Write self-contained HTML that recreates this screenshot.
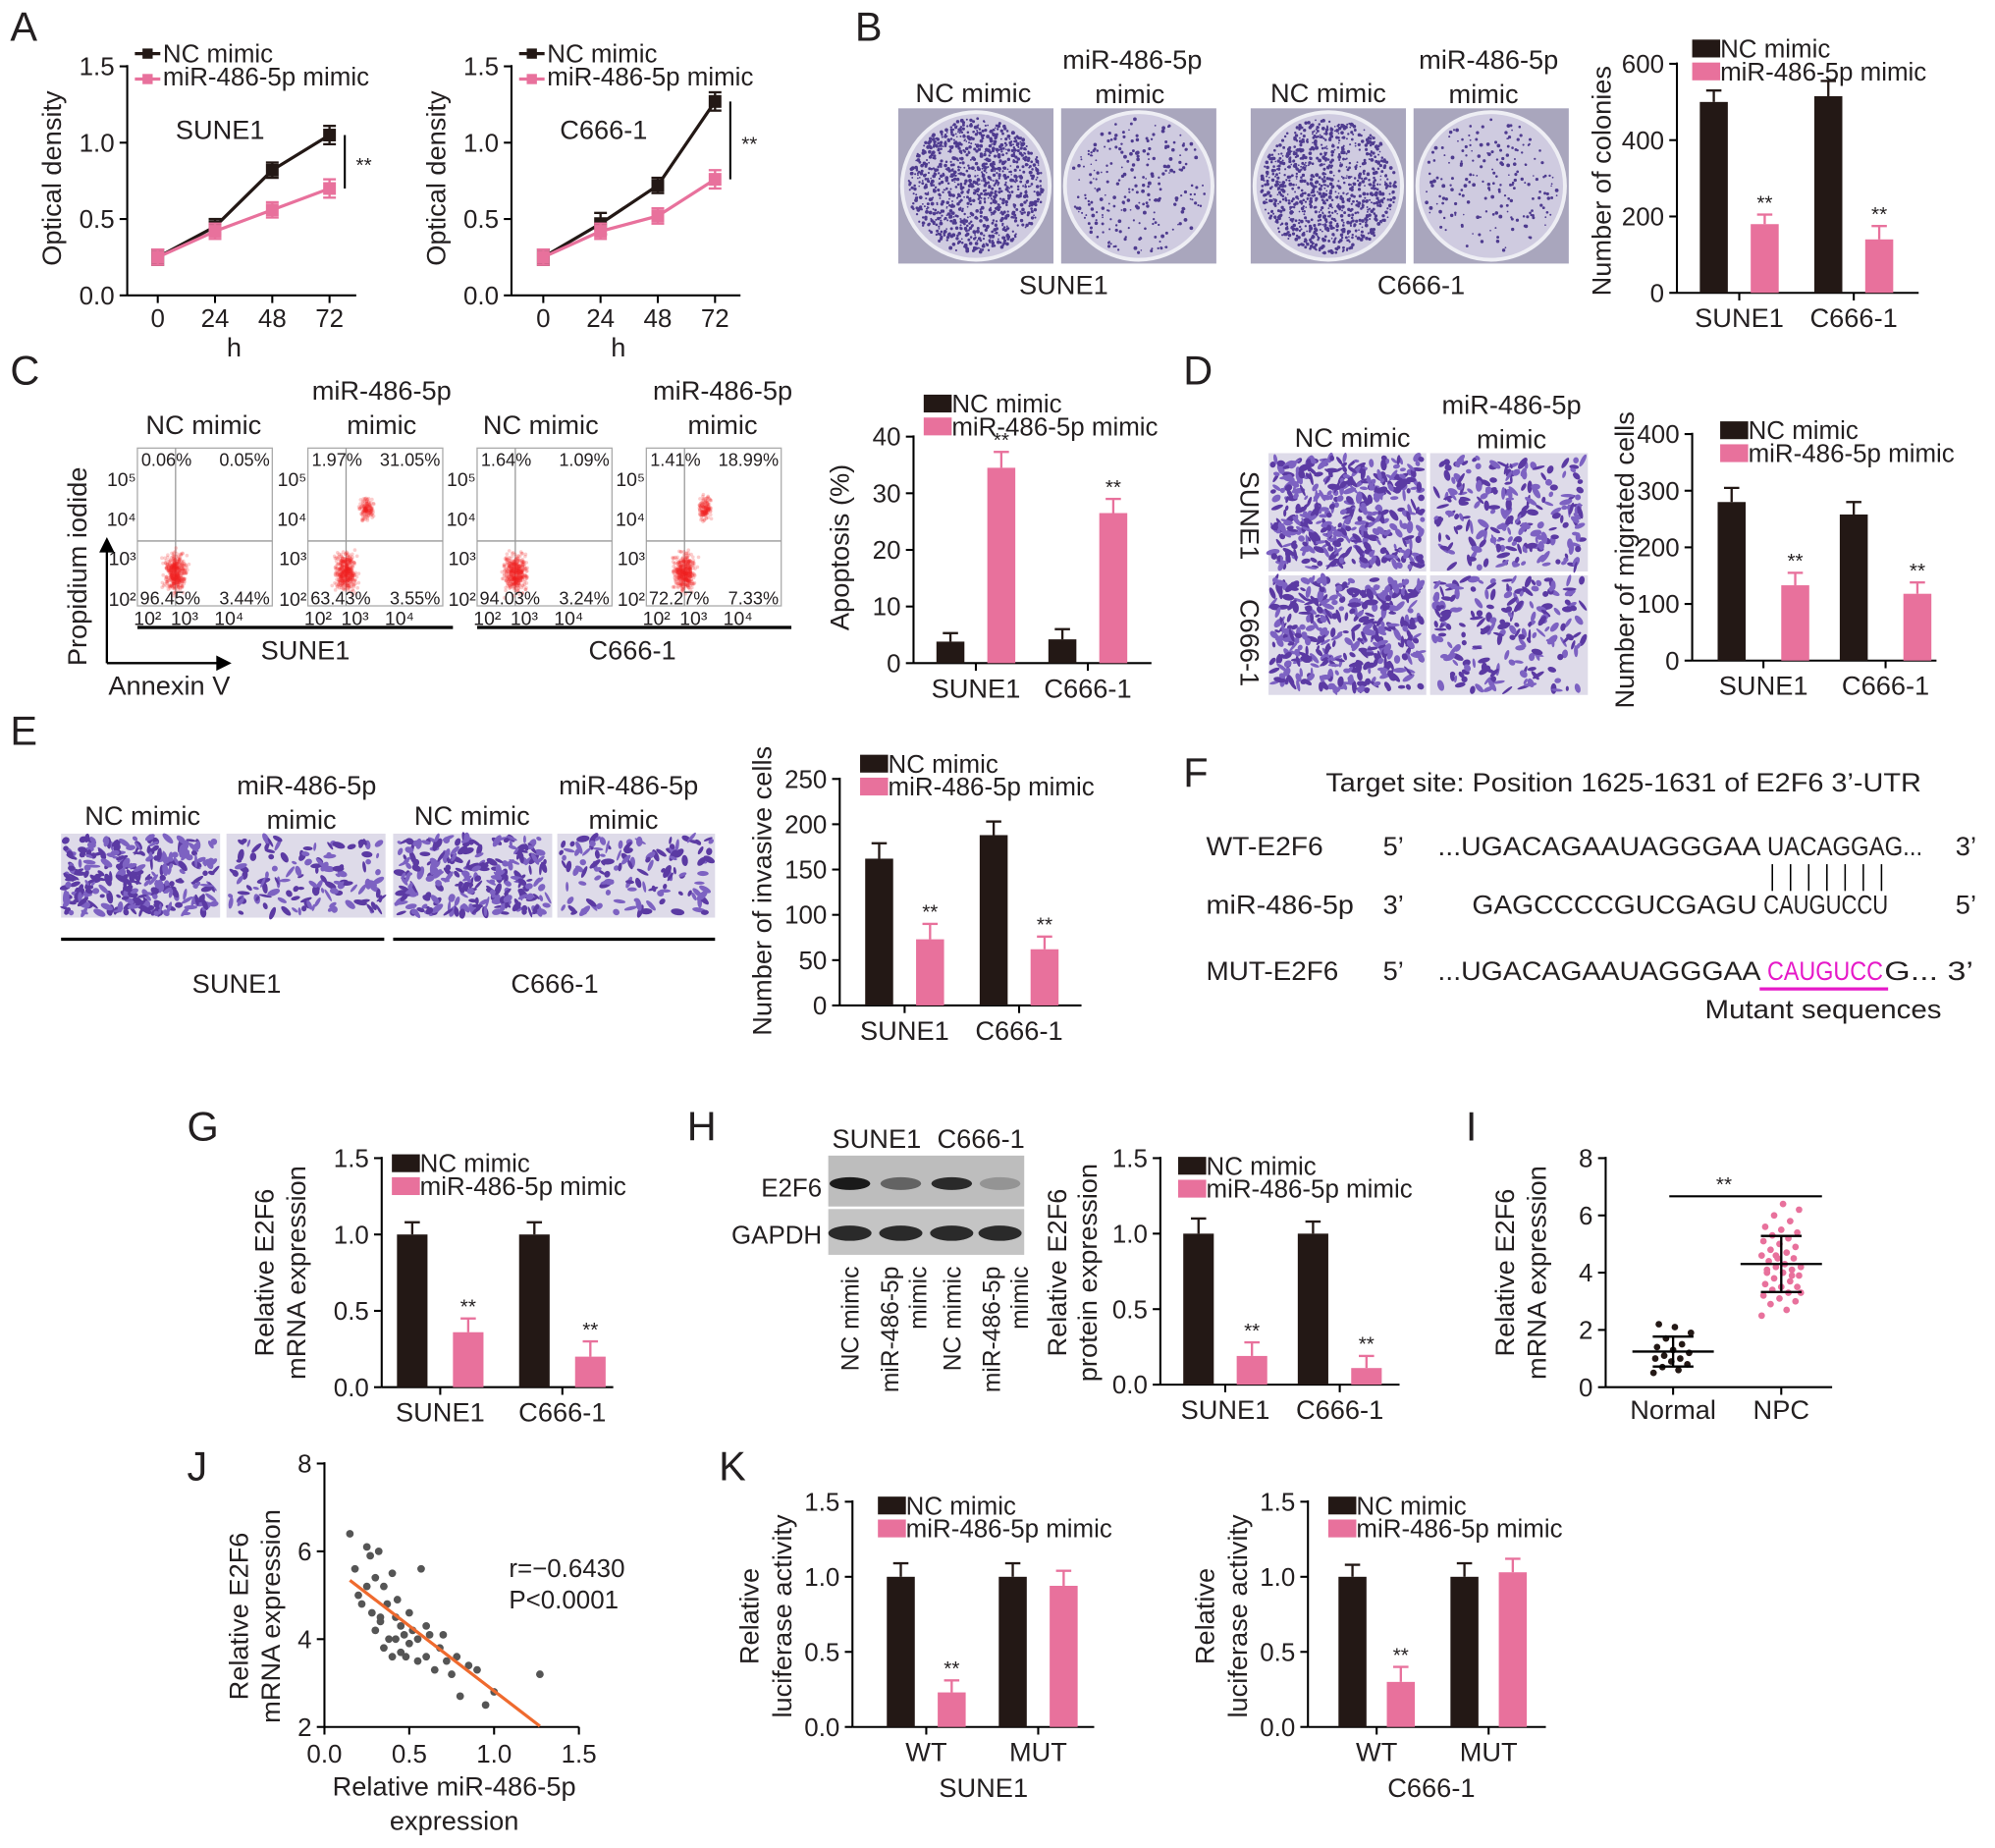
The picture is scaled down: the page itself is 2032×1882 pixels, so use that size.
<!DOCTYPE html>
<html><head><meta charset="utf-8">
<style>
html,body{margin:0;padding:0;background:#fff;}
svg{display:block;}
text{font-family:"Liberation Sans",Arial,sans-serif;fill:#231f20;}
</style></head>
<body>
<svg id="fig" xmlns="http://www.w3.org/2000/svg" width="2032" height="1882" viewBox="0 0 1568 1452"></svg>
<script>
// ---------------- DATA ----------------
const hours = [0, 24, 48, 72];
const aSuneNC = [0.25, 0.45, 0.82, 1.05];
const aSuneMi = [0.25, 0.42, 0.56, 0.70];
const aSuneNCErr = [0.05, 0.05, 0.05, 0.06];
const aSuneMiErr = [0.05, 0.05, 0.05, 0.06];
const aC666NC = [0.25, 0.47, 0.72, 1.27];
const aC666Mi = [0.25, 0.42, 0.52, 0.76];
const aC666NCErr = [0.05, 0.07, 0.05, 0.06];
const aC666MiErr = [0.05, 0.05, 0.05, 0.06];
const cellLines = ["SUNE1", "C666-1"];
const bNC = [500, 515]; const bNCErr = [30, 40];
const bMi = [180, 140]; const bMiErr = [25, 35];
const cNC = [3.8, 4.2]; const cNCErr = [1.5, 1.8];
const cMi = [34.5, 26.5]; const cMiErr = [2.8, 2.5];
const dNC = [280, 258]; const dNCErr = [25, 22];
const dMi = [133, 118]; const dMiErr = [22, 20];
const eNC = [162, 188]; const eNCErr = [17, 15];
const eMi = [73, 62]; const eMiErr = [17, 14];
const gNC = [1.0, 1.0]; const gNCErr = [0.08, 0.08];
const gMi = [0.36, 0.20]; const gMiErr = [0.09, 0.1];
const hNC = [1.0, 1.0]; const hNCErr = [0.1, 0.08];
const hMi = [0.19, 0.11]; const hMiErr = [0.09, 0.08];
const kCats = ["WT", "MUT"];
const kSuneNC = [1.0, 1.0]; const kSuneNCErr = [0.09, 0.09];
const kSuneMi = [0.23, 0.94]; const kSuneMiErr = [0.08, 0.1];
const kC666NC = [1.0, 1.0]; const kC666NCErr = [0.08, 0.09];
const kC666Mi = [0.30, 1.03]; const kC666MiErr = [0.1, 0.09];
const iNormal = [0.5, 0.6, 0.7, 0.8, 0.9, 1.0, 1.0, 1.1, 1.2, 1.3, 1.4, 1.5, 1.7, 1.9, 2.1, 2.2];
const iNPC = [2.5, 2.7, 2.9, 3.0, 3.1, 3.2, 3.3, 3.4, 3.5, 3.5, 3.6, 3.7, 3.8, 3.9, 4.0, 4.0, 4.1, 4.2, 4.2, 4.3, 4.4, 4.5, 4.5, 4.6, 4.7, 4.8, 4.9, 5.0, 5.1, 5.2, 5.3, 5.4, 5.5, 5.6, 5.8, 6.0, 6.2, 6.4, 4.1, 3.9, 4.6, 3.3];
const jX = [0.15,0.18,0.2,0.22,0.25,0.27,0.28,0.3,0.3,0.32,0.33,0.35,0.35,0.37,0.38,0.4,0.4,0.42,0.43,0.45,0.45,0.47,0.48,0.5,0.5,0.52,0.55,0.55,0.57,0.6,0.6,0.62,0.65,0.68,0.7,0.72,0.75,0.78,0.8,0.85,0.9,0.95,1.0,1.27,0.25,0.33,0.42];
const jY = [6.4,5.6,5.0,4.8,6.1,5.9,4.6,5.4,4.2,6.0,4.4,5.2,3.8,4.8,4.0,5.5,3.6,4.5,4.9,3.7,4.3,4.1,3.6,4.6,3.9,4.2,4.0,3.5,5.6,3.6,4.3,4.1,3.3,3.8,4.1,3.5,3.2,3.6,2.7,3.4,3.3,2.5,2.8,3.2,5.2,4.5,4.0];
const flowPct = [["0.06%","0.05%","96.45%","3.44%"],["1.97%","31.05%","63.43%","3.55%"],["1.64%","1.09%","94.03%","3.24%"],["1.41%","18.99%","72.27%","7.33%"]];

// ---------------- HELPERS ----------------
const NS = "http://www.w3.org/2000/svg";
const svg = document.getElementById("fig");
const PINK = "#e8719c", BLK = "#231815";
function mk(tag, attrs, parent) {
  const e = document.createElementNS(NS, tag);
  for (const k in attrs) e.setAttribute(k, attrs[k]);
  (parent || svg).appendChild(e);
  return e;
}
function txt(s, x, y, size, anchor, parent, name, extra) {
  const e = mk("text", Object.assign({x: x, y: y, "font-size": size, "text-anchor": anchor || "start"}, extra || {}), parent);
  e.textContent = s;
  
  
  return e;
}
function line(x1, y1, x2, y2, stroke, w, parent) {
  const e = mk("line", {x1: x1, y1: y1, x2: x2, y2: y2, stroke: stroke || "#000", "stroke-width": w || 1.6}, parent);
  
  
  return e;
}
function rotText(s, x, y, size, name) {
  return txt(s, x, y, size, "middle", svg, name, {transform: "rotate(-90 " + x + " " + y + ")"});
}
let seed = 7;
function rng() { seed = (seed * 16807) % 2147483647; return (seed - 1) / 2147483646; }

function yAxis(x0, yTop, yBot, max, step, fmt, size) {
  const g = mk("g", {});
  
  
  const sc = v => yBot - v / max * (yBot - yTop);
  line(x0, yTop - 1, x0, yBot, "#000", 1.6, g);
  for (let v = 0; v <= max + 1e-9; v += step) {
    line(x0 - 6, sc(v), x0, sc(v), "#000", 1.6, g);
    txt(fmt(v), x0 - 10, sc(v) + 7, size || 20, "end", g, 'y-tick-label');
  }
  return sc;
}
function legend(x, y, type) {
  const g = mk("g", {});
  
  
  if (type === "line") {
    line(x, y, x + 20, y, BLK, 2.5, g); mk("rect", {x: x + 6, y: y - 4, width: 8, height: 8, fill: BLK}, g);
    line(x, y + 20, x + 20, y + 20, PINK, 2.5, g); mk("rect", {x: x + 6, y: y + 16, width: 8, height: 8, fill: PINK}, g);
  } else {
    mk("rect", {x: x, y: y - 7, width: 22, height: 14, fill: BLK}, g);
    mk("rect", {x: x, y: y + 11, width: 22, height: 14, fill: PINK}, g);
  }
  txt("NC mimic", x + 22, y + 7, 20, "start", g, 'legend-nc');
  txt("miR-486-5p mimic", x + 22, y + 25, 20, "start", g, 'legend-mimic');
}
function barChart(o) {
  const sc = yAxis(o.x0, o.yTop, o.yBot, o.max, o.step, o.fmt, o.size);
  line(o.x0, o.yBot, o.xEnd, o.yBot, "#000", 1.6);
  const bw = o.bw || 22;
  for (let i = 0; i < o.nc.length; i++) {
    const gx = o.g0 + i * o.gs;
    const sets = [[o.nc, o.ncErr, BLK, gx], [o.mi, o.miErr, PINK, gx + o.pair]];
    sets.forEach((s, k) => {
      const v = s[0][i], err = s[1][i], bx = s[3];
      const r = mk("rect", {x: bx, y: sc(v), width: bw, height: o.yBot - sc(v), fill: s[2]});
      
      
      line(bx + bw / 2, sc(v), bx + bw / 2, sc(v + err), s[2], 1.8);
      line(bx + bw / 2 - 6, sc(v + err), bx + bw / 2 + 6, sc(v + err), s[2], 1.8);
      if (k === 1 && o.stars[i]) txt("**", bx + bw / 2, sc(v + err) - 4, 16, "middle", svg, 'significance');
    });
    line(gx + bw / 2 + o.pair / 2, o.yBot, gx + bw / 2 + o.pair / 2, o.yBot + 6, "#000", 1.6);
    txt(o.cats[i], gx + bw / 2 + o.pair / 2, o.yBot + 27, 21, "middle", svg, 'x-tick-label');
  }
  return sc;
}
function lineChart(o) {
  const sc = yAxis(o.x0, 52, 232, 1.5, 0.5, v => v.toFixed(1));
  const xs = h => o.xh0 + h / 72 * (o.xh72 - o.xh0);
  line(o.x0, 232, o.x0 + 180, 232, "#000", 1.6);
  hours.forEach(h => { line(xs(h), 232, xs(h), 238, "#000", 1.6); txt(String(h), xs(h), 257, 20, "middle", svg, 'x-tick-label'); });
  txt("h", o.x0 + 84, 280, 21, "middle", svg, 'x-axis-title');
  [[o.nc, o.ncErr, BLK], [o.mi, o.miErr, PINK]].forEach(s => {
    const pts = hours.map((h, i) => xs(h) + "," + sc(s[0][i])).join(" ");
    const pl = mk("polyline", {points: pts, fill: "none", stroke: s[2], "stroke-width": 2.5});
    
    
    hours.forEach((h, i) => {
      const x = xs(h), v = s[0][i], e = s[1][i];
      line(x, sc(v - e), x, sc(v + e), s[2], 1.8);
      line(x - 5, sc(v - e), x + 5, sc(v - e), s[2], 1.8);
      line(x - 5, sc(v + e), x + 5, sc(v + e), s[2], 1.8);
      const r = mk("rect", {x: x - 5, y: sc(v) - 5, width: 10, height: 10, fill: s[2]});
      
      
    });
  });
  const bx = xs(72) + 12;
  line(bx, sc(o.nc[3]), bx, sc(o.mi[3]), "#000", 1.6);
  txt("**", bx + 15, (sc(o.nc[3]) + sc(o.mi[3])) / 2 + 8, 16, "middle", svg, 'significance');
  rotText("Optical density", o.x0 - 52, 140, 21, 'y-axis-title');
  legend(o.x0 + 6, 42, "line");
  txt(o.cell, o.cellX, 109, 21, "start", svg, 'cell-line-label');
}
function cellImage(x, y, w, h, n, name) {
  const g = mk("g", {});
  
  
  mk("rect", {x: x, y: y, width: w, height: h, fill: "#dedbe9"}, g);
  for (let i = 0; i < n; i++) {
    const cx = x + 3 + rng() * (w - 6), cy = y + 3 + rng() * (h - 6);
    mk("ellipse", {cx: cx, cy: cy, rx: 2 + rng() * 3.5, ry: 1 + rng() * 1.6, fill: rng() > 0.5 ? "#5b3aa3" : "#7d62c2", transform: "rotate(" + (rng() * 180) + " " + cx + " " + cy + ")"}, g);
  }
}
function dish(x, y, s, n, name) {
  const g = mk("g", {});
  
  
  mk("rect", {x: x, y: y, width: s, height: s, fill: "#a9a6bd"}, g);
  mk("circle", {cx: x + s / 2, cy: y + s / 2, r: s / 2 - 3, fill: "#cfcbe0", stroke: "#eeeef4", "stroke-width": 3}, g);
  for (let i = 0; i < n; i++) {
    const a = rng() * 6.283, r = Math.sqrt(rng()) * (s / 2 - 8);
    mk("circle", {cx: x + s / 2 + r * Math.cos(a), cy: y + s / 2 + r * Math.sin(a), r: 0.6 + rng() * 0.9, fill: "#4e3b8f"}, g);
  }
}

// ---------------- PANEL LETTERS ----------------
[["A", 8, 32], ["B", 672, 32], ["C", 8, 302], ["D", 930, 302], ["E", 8, 585], ["F", 930, 618], ["G", 147, 896], ["H", 540, 896], ["I", 1152, 896], ["J", 147, 1163], ["K", 565, 1163]].forEach(p => txt(p[0], p[1], p[2], 32, "start", svg, 'panel-letter-' + p[0].toLowerCase()));

// ---------------- A ----------------
lineChart({x0: 100, xh0: 124, xh72: 259, nc: aSuneNC, ncErr: aSuneNCErr, mi: aSuneMi, miErr: aSuneMiErr, cell: "SUNE1", cellX: 138});
lineChart({x0: 402, xh0: 427, xh72: 562, nc: aC666NC, ncErr: aC666NCErr, mi: aC666Mi, miErr: aC666MiErr, cell: "C666-1", cellX: 440});

// ---------------- B ----------------
dish(706, 85, 122, 1100, 'colony-dish-sune1-nc');
dish(834, 85, 122, 250, 'colony-dish-sune1-mimic');
dish(983, 85, 122, 1000, 'colony-dish-c666-nc');
dish(1111, 85, 122, 200, 'colony-dish-c666-mimic');
txt("NC mimic", 765, 80, 21, "middle", svg, 'column-label');
txt("miR-486-5p", 890, 54, 21, "middle", svg, 'column-label');
txt("mimic", 888, 81, 21, "middle", svg, 'column-label');
txt("NC mimic", 1044, 80, 21, "middle", svg, 'column-label');
txt("miR-486-5p", 1170, 54, 21, "middle", svg, 'column-label');
txt("mimic", 1166, 81, 21, "middle", svg, 'column-label');
txt("SUNE1", 836, 231, 21, "middle", svg, 'cell-line-label');
txt("C666-1", 1117, 231, 21, "middle", svg, 'cell-line-label');
barChart({x0: 1318, yTop: 50, yBot: 230, max: 600, step: 200, fmt: v => String(v), xEnd: 1508, g0: 1336, gs: 90, pair: 40, nc: bNC, ncErr: bNCErr, mi: bMi, miErr: bMiErr, stars: [1, 1], cats: cellLines});
rotText("Number of colonies", 1266, 142, 21, 'y-axis-title');
legend(1330, 38, "bar");

// ---------------- C ----------------
const flowX = [108, 242, 375, 508];
const flowTitle = [["NC mimic"], ["miR-486-5p", "mimic"], ["NC mimic"], ["miR-486-5p", "mimic"]];
const flowTitleX = [160, 300, 425, 568];
flowX.forEach((fx, idx) => {
  const g = mk("g", {});
  
  
  mk("rect", {x: fx, y: 352, width: 106, height: 124, fill: "#fff", stroke: "#aaa", "stroke-width": 1}, g);
  line(fx + 30, 352, fx + 30, 476, "#999", 1, g);
  line(fx, 425, fx + 106, 425, "#999", 1, g);
  const clouds = [[fx + 30, 450, 420, 1]];
  if (idx === 1 || idx === 3) clouds.push([fx + 46, 400, 140, 0.6]);
  clouds.forEach(c => {
    for (let i = 0; i < c[2]; i++) {
      const u = rng() + rng() + rng() - 1.5, v = rng() + rng() + rng() - 1.5;
      mk("circle", {cx: c[0] + u * 8 * c[3], cy: c[1] + v * 14 * c[3], r: 1.4, fill: "#f01e1e", opacity: 0.22}, g);
    }
  });
  const p = flowPct[idx];
  txt(p[0], fx + 3, 366, 14, "start", g, 'quadrant-pct');
  txt(p[1], fx + 104, 366, 14, "end", g, 'quadrant-pct');
  txt(p[2], fx + 2, 475, 14, "start", g, 'quadrant-pct');
  txt(p[3], fx + 104, 475, 14, "end", g, 'quadrant-pct');
  [["10\u2075", 382], ["10\u2074", 413], ["10\u00B3", 444], ["10\u00B2", 476]].forEach(t => txt(t[0], fx - 1, t[1], 15, "end", g, 'y-tick-label'));
  [["10\u00B2", fx + 8], ["10\u00B3", fx + 37], ["10\u2074", fx + 72]].forEach(t => txt(t[0], t[1], 491, 15, "middle", g, 'x-tick-label'));
  flowTitle[idx].forEach((s, k) => txt(s, flowTitleX[idx], flowTitle[idx].length === 2 ? 314 + k * 27 : 341, 21, "middle", svg, 'column-label'));
});
line(108, 493, 356, 493, "#000", 2.5);
line(375, 493, 622, 493, "#000", 2.5);
txt("SUNE1", 240, 518, 21, "middle", svg, 'cell-line-label');
txt("C666-1", 497, 518, 21, "middle", svg, 'cell-line-label');
line(84, 521, 84, 432, "#000", 1.8);
mk("polygon", {points: "78,434 90,434 84,422", fill: "#000"});
line(84, 521, 172, 521, "#000", 1.8);
mk("polygon", {points: "170,515 170,527 182,521", fill: "#000"});
rotText("Propidium iodide", 68, 445, 21, 'y-axis-title');
txt("Annexin V", 133, 546, 21, "middle", svg, 'x-axis-title');
barChart({x0: 718, yTop: 343, yBot: 521, max: 40, step: 10, fmt: v => String(v), xEnd: 905, g0: 736, gs: 88, pair: 40, nc: cNC, ncErr: cNCErr, mi: cMi, miErr: cMiErr, stars: [1, 1], cats: cellLines});
rotText("Apoptosis (%)", 667, 430, 21, 'y-axis-title');
legend(726, 317, "bar");

// ---------------- D ----------------
cellImage(997, 356, 124, 93, 420, 'migration-image-sune1-nc');
cellImage(1124, 356, 124, 93, 220, 'migration-image-sune1-mimic');
cellImage(997, 452, 124, 94, 400, 'migration-image-c666-nc');
cellImage(1124, 452, 124, 94, 200, 'migration-image-c666-mimic');
txt("NC mimic", 1063, 351, 21, "middle", svg, 'column-label');
txt("miR-486-5p", 1188, 325, 21, "middle", svg, 'column-label');
txt("mimic", 1188, 352, 21, "middle", svg, 'column-label');
txt("SUNE1", 975, 405, 21, "middle", svg, 'row-label', {transform: "rotate(90 975 405)"});
txt("C666-1", 975, 505, 21, "middle", svg, 'row-label', {transform: "rotate(90 975 505)"});
barChart({x0: 1330, yTop: 341, yBot: 519, max: 400, step: 100, fmt: v => String(v), xEnd: 1522, g0: 1350, gs: 96, pair: 50, nc: dNC, ncErr: dNCErr, mi: dMi, miErr: dMiErr, stars: [1, 1], cats: cellLines});
rotText("Number of migrated cells", 1284, 440, 21, 'y-axis-title');
legend(1352, 338, "bar");

// ---------------- E ----------------
cellImage(48, 655, 125, 66, 300, 'invasion-image-sune1-nc');
cellImage(178, 655, 125, 66, 130, 'invasion-image-sune1-mimic');
cellImage(309, 655, 125, 66, 260, 'invasion-image-c666-nc');
cellImage(438, 655, 124, 66, 130, 'invasion-image-c666-mimic');
txt("NC mimic", 112, 648, 21, "middle", svg, 'column-label');
txt("miR-486-5p", 241, 624, 21, "middle", svg, 'column-label');
txt("mimic", 237, 651, 21, "middle", svg, 'column-label');
txt("NC mimic", 371, 648, 21, "middle", svg, 'column-label');
txt("miR-486-5p", 494, 624, 21, "middle", svg, 'column-label');
txt("mimic", 490, 651, 21, "middle", svg, 'column-label');
line(48, 738, 302, 738, "#000", 2.5);
line(309, 738, 562, 738, "#000", 2.5);
txt("SUNE1", 186, 780, 21, "middle", svg, 'cell-line-label');
txt("C666-1", 436, 780, 21, "middle", svg, 'cell-line-label');
barChart({x0: 660, yTop: 612, yBot: 790, max: 250, step: 50, fmt: v => String(v), xEnd: 850, g0: 680, gs: 90, pair: 40, nc: eNC, ncErr: eNCErr, mi: eMi, miErr: eMiErr, stars: [1, 1], cats: cellLines});
rotText("Number of invasive cells", 606, 700, 21, 'y-axis-title');
legend(676, 600, "bar");

// ---------------- F ----------------
const fg = mk("g", {});


const fit = w => ({textLength: w, lengthAdjust: "spacingAndGlyphs"});
txt("Target site: Position 1625-1631 of E2F6 3\u2019-UTR", 1042, 622, 21, "start", fg, 'target-site-title', fit(468));
txt("WT-E2F6", 948, 672, 21, "start", fg, 'wt-label', fit(92));
txt("miR-486-5p", 948, 718, 21, "start", fg, 'mir-label', fit(116));
txt("MUT-E2F6", 948, 770, 21, "start", fg, 'mut-label', fit(104));
["5\u2019", "3\u2019", "5\u2019"].forEach((s, i) => txt(s, 1087, [672, 718, 770][i], 21, "start", fg, 'strand-end'));
txt("...UGACAGAAUAGGGAA", 1130, 672, 21, "start", fg, 'wt-sequence', fit(254));
txt("UACAGGAG...", 1389, 672, 21, "start", fg, 'wt-sequence-site', fit(122));
txt("3\u2019", 1537, 672, 21, "start", fg, 'strand-end');
txt("GAGCCCCGUCGAGU", 1157, 718, 21, "start", fg, 'mir-sequence', fit(224));
txt("CAUGUCCU", 1386, 718, 21, "start", fg, 'mir-sequence-seed', fit(98));
txt("5\u2019", 1537, 718, 21, "start", fg, 'strand-end');
for (let i = 0; i < 7; i++) line(1393 + i * 14.3, 679, 1393 + i * 14.3, 700, "#000", 1.2, fg);
txt("...UGACAGAAUAGGGAA", 1130, 770, 21, "start", fg, 'mut-sequence', fit(254));
txt("CAUGUCC", 1389, 770, 21, "start", fg, 'mut-sequence-site', Object.assign({style: "fill:#e619c8"}, fit(91)));
txt("G... 3\u2019", 1481, 770, 21, "start", fg, 'mut-sequence-end', fit(70));
line(1383, 777, 1484, 777, "#e619c8", 2.5, fg);
txt("Mutant sequences", 1433, 800, 21, "middle", fg, 'mutant-label', fit(186));

// ---------------- G ----------------
const f1 = v => v.toFixed(1);
barChart({x0: 300, yTop: 910, yBot: 1090, max: 1.5, step: 0.5, fmt: f1, xEnd: 482, g0: 312, gs: 96, pair: 44, bw: 24, nc: gNC, ncErr: gNCErr, mi: gMi, miErr: gMiErr, stars: [1, 1], cats: cellLines});
rotText("Relative E2F6", 215, 1000, 21, 'y-axis-title');
rotText("mRNA expression", 240, 1000, 21, 'y-axis-title');
legend(308, 914, "bar");

// ---------------- H ----------------
const blot = mk("g", {});


mk("rect", {x: 651, y: 908, width: 154, height: 40, fill: "#bdbdbd"}, blot);
mk("rect", {x: 651, y: 950, width: 154, height: 36, fill: "#c4c4c4"}, blot);
const e2f6Band = [1, 0.55, 0.9, 0.25];
[668, 708, 748, 786].forEach((bx, i) => {
  mk("ellipse", {cx: bx, cy: 930, rx: 16, ry: 5, fill: "#1a1a1a", opacity: e2f6Band[i]}, blot);
  mk("ellipse", {cx: bx, cy: 969, rx: 17, ry: 6, fill: "#1a1a1a", opacity: 0.9}, blot);
});
txt("SUNE1", 689, 902, 21, "middle", svg, 'blot-cell-label');
txt("C666-1", 771, 902, 21, "middle", svg, 'blot-cell-label');
txt("E2F6", 646, 940, 20, "end", svg, 'blot-row-label');
txt("GAPDH", 646, 977, 20, "end", svg, 'blot-row-label');
[[675, "NC mimic"], [706, "miR-486-5p"], [728, "mimic"], [755, "NC mimic"], [786, "miR-486-5p"], [808, "mimic"]].forEach(l =>
  txt(l[1], l[0], 995, 19, "end", svg, 'lane-label', {transform: "rotate(-90 " + l[0] + " 995)"}));
barChart({x0: 912, yTop: 910, yBot: 1088, max: 1.5, step: 0.5, fmt: f1, xEnd: 1100, g0: 930, gs: 90, pair: 42, bw: 24, nc: hNC, ncErr: hNCErr, mi: hMi, miErr: hMiErr, stars: [1, 1], cats: cellLines});
rotText("Relative E2F6", 838, 1000, 21, 'y-axis-title');
rotText("protein expression", 862, 1000, 21, 'y-axis-title');
legend(926, 916, "bar");

// ---------------- I ----------------
const iSc = yAxis(1262, 910, 1090, 8, 2, v => String(v));
line(1262, 1090, 1440, 1090, "#000", 1.6);
const iCats = [["Normal", 1315, iNormal, BLK], ["NPC", 1400, iNPC, PINK]];
iCats.forEach(c => {
  line(c[1], 1090, c[1], 1096, "#000", 1.6);
  txt(c[0], c[1], 1115, 21, "middle", svg, 'x-tick-label');
  c[2].forEach((v, i) => {
    const dx = ((i * 37) % 23 - 11) * 1.4;
    const p = mk("circle", {cx: c[1] + dx, cy: iSc(v), r: 2.6, fill: c[3]});
    
    
  });
  const m = c[2].reduce((a, b) => a + b, 0) / c[2].length;
  const sd = Math.sqrt(c[2].reduce((a, b) => a + (b - m) * (b - m), 0) / (c[2].length - 1));
  line(c[1] - 32, iSc(m), c[1] + 32, iSc(m), "#000", 1.8);
  line(c[1], iSc(m - sd), c[1], iSc(m + sd), "#000", 1.8);
  line(c[1] - 16, iSc(m - sd), c[1] + 16, iSc(m - sd), "#000", 1.8);
  line(c[1] - 16, iSc(m + sd), c[1] + 16, iSc(m + sd), "#000", 1.8);
});
line(1312, 940, 1432, 940, "#000", 1.6);
txt("**", 1355, 936, 16, "middle", svg, 'significance');
rotText("Relative E2F6", 1190, 1000, 21, 'y-axis-title');
rotText("mRNA expression", 1215, 1000, 21, 'y-axis-title');

// ---------------- J ----------------
const jSc = yAxis(255, 1150, 1357, 6, 2, v => String(v + 2));
const jy = v => jSc(v - 2);
const jx = v => 255 + v / 1.5 * 200;
line(255, 1357, 455, 1357, "#000", 1.6);
[0, 0.5, 1.0, 1.5].forEach(v => { line(jx(v), 1357, jx(v), 1363, "#000", 1.6); txt(v.toFixed(1), jx(v), 1385, 20, "middle", svg, 'x-tick-label'); });
jX.forEach((v, i) => {
  const p = mk("circle", {cx: jx(v), cy: jy(jY[i]), r: 3, fill: "#555"});
  
  
});
(function () {
  const n = jX.length, mx = jX.reduce((a, b) => a + b) / n, my = jY.reduce((a, b) => a + b) / n;
  let sxy = 0, sxx = 0;
  jX.forEach((x, i) => { sxy += (x - mx) * (jY[i] - my); sxx += (x - mx) * (x - mx); });
  const b = sxy / sxx, a = my - b * mx;
  const x1 = Math.min(...jX), x2 = Math.max(...jX);
  const l = mk("line", {x1: jx(x1), y1: jy(a + b * x1), x2: jx(x2), y2: jy(a + b * x2), stroke: "#ef6a2e", "stroke-width": 2.5});
  
  
})();
txt("r=\u22120.6430", 400, 1239, 20, "start", svg, 'correlation-r');
txt("P<0.0001", 400, 1264, 20, "start", svg, 'p-value');
txt("Relative miR-486-5p", 357, 1411, 21, "middle", svg, 'x-axis-title');
txt("expression", 357, 1438, 21, "middle", svg, 'x-axis-title');
rotText("Relative E2F6", 195, 1270, 21, 'y-axis-title');
rotText("mRNA expression", 220, 1270, 21, 'y-axis-title');

// ---------------- K ----------------
barChart({x0: 670, yTop: 1180, yBot: 1357, max: 1.5, step: 0.5, fmt: f1, xEnd: 860, g0: 697, gs: 88, pair: 40, nc: kSuneNC, ncErr: kSuneNCErr, mi: kSuneMi, miErr: kSuneMiErr, stars: [1, 0], cats: kCats});
txt("SUNE1", 773, 1412, 21, "middle", svg, 'cell-line-label');
rotText("Relative", 596, 1270, 21, 'y-axis-title');
rotText("luciferase activity", 622, 1270, 21, 'y-axis-title');
legend(690, 1183, "bar");
barChart({x0: 1028, yTop: 1180, yBot: 1357, max: 1.5, step: 0.5, fmt: f1, xEnd: 1215, g0: 1052, gs: 88, pair: 38, nc: kC666NC, ncErr: kC666NCErr, mi: kC666Mi, miErr: kC666MiErr, stars: [1, 0], cats: kCats});
txt("C666-1", 1125, 1412, 21, "middle", svg, 'cell-line-label');
rotText("Relative", 954, 1270, 21, 'y-axis-title');
rotText("luciferase activity", 980, 1270, 21, 'y-axis-title');
legend(1044, 1183, "bar");
</script>
</body></html>
